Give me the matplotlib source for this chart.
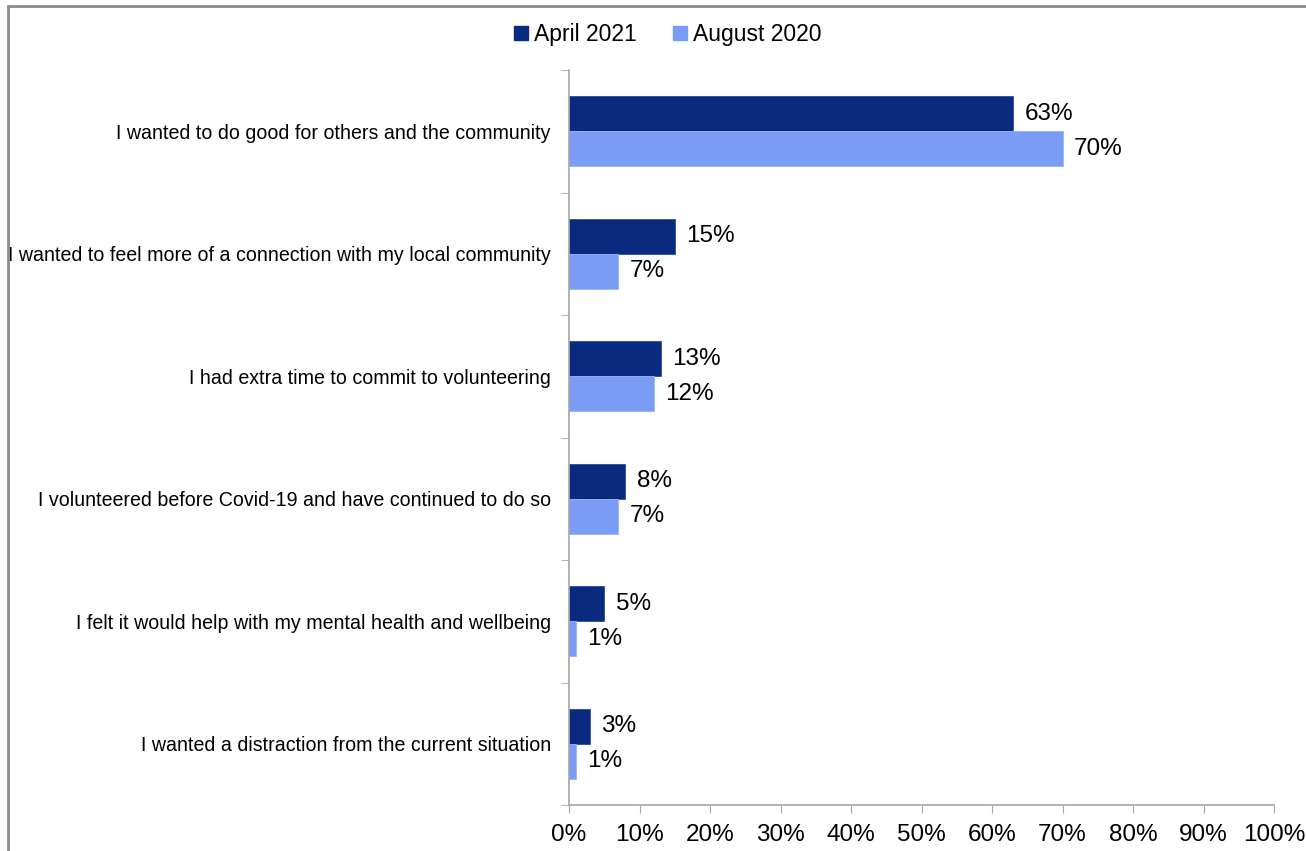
import matplotlib

matplotlib.use("Agg")
import matplotlib.pyplot as plt
import numpy as np
from matplotlib.lines import Line2D
from matplotlib.patches import Rectangle

plt.rcParams["font.family"] = ["Liberation Sans", "DejaVu Sans"]

# Reasons for volunteering, top to bottom
reasons = [
    "I wanted to do good for others and the community",
    "I wanted to feel more of a connection with my local community",
    "I had extra time to commit to volunteering",
    "I volunteered before Covid-19 and have continued to do so",
    "I felt it would help with my mental health and wellbeing",
    "I wanted a distraction from the current situation",
]
april_2021 = [63, 15, 13, 8, 5, 3]
august_2020 = [70, 7, 12, 7, 1, 1]
series_names = ["April 2021", "August 2020"]
x_ticks = [0, 10, 20, 30, 40, 50, 60, 70, 80, 90, 100]

DARK = "#0a2a80"
LIGHT = "#7a9cf4"
SPINE = "#a6a6a6"

fig = plt.figure(figsize=(13.06, 8.51), dpi=100)
ax = fig.add_axes([569 / 1306, 1 - 805 / 851, 705 / 1306, 735 / 851])

n = len(reasons)
pos = np.arange(n)
h = 0.286

ax.barh(pos - h / 2, april_2021, height=h, color=DARK, edgecolor="#2a4aa0", linewidth=0.6)
ax.barh(pos + h / 2, august_2020, height=h, color=LIGHT, edgecolor="#9ab4f8", linewidth=0.6)

for i in range(n):
    ax.text(april_2021[i] + 1.6, pos[i] - h / 2, f"{april_2021[i]}%",
            va="center", ha="left", fontsize=17.5)
    ax.text(august_2020[i] + 1.6, pos[i] + h / 2, f"{august_2020[i]}%",
            va="center", ha="left", fontsize=17.5)

ax.set_xlim(0, 100)
ax.set_ylim(n - 0.5, -0.5)
ax.set_xticks(x_ticks)
ax.set_xticklabels([f"{t}%" for t in x_ticks], fontsize=17.5)
ax.set_yticks(pos)
ax.set_yticklabels(reasons, fontsize=14.1)
ax.set_yticks(np.arange(n + 1) - 0.5, minor=True)

ax.tick_params(axis="y", which="major", length=0, pad=13)
ax.tick_params(axis="y", which="minor", length=6, color=SPINE, direction="out")
ax.tick_params(axis="x", length=6, color=SPINE, direction="out", pad=8)

for side in ["top", "right"]:
    ax.spines[side].set_visible(False)
for side in ["left", "bottom"]:
    ax.spines[side].set_color(SPINE)
    ax.spines[side].set_linewidth(1.2)

handles = [
    Line2D([], [], marker="s", linestyle="none", markersize=10, color=DARK),
    Line2D([], [], marker="s", linestyle="none", markersize=10, color=LIGHT),
]
fig.legend(handles, series_names, loc="center", bbox_to_anchor=(668 / 1306, 1 - 35 / 851),
           ncol=2, frameon=False, fontsize=16.5, handlelength=0.6, handletextpad=0.25,
           columnspacing=1.6)

# chart border
fig.patches.append(Rectangle((8 / 1306, -0.01), 1.0, 1 - 6 / 851 + 0.01,
                             transform=fig.transFigure, fill=False,
                             edgecolor="#8c8c8c", linewidth=2))

fig.savefig("out.png", dpi=100)
